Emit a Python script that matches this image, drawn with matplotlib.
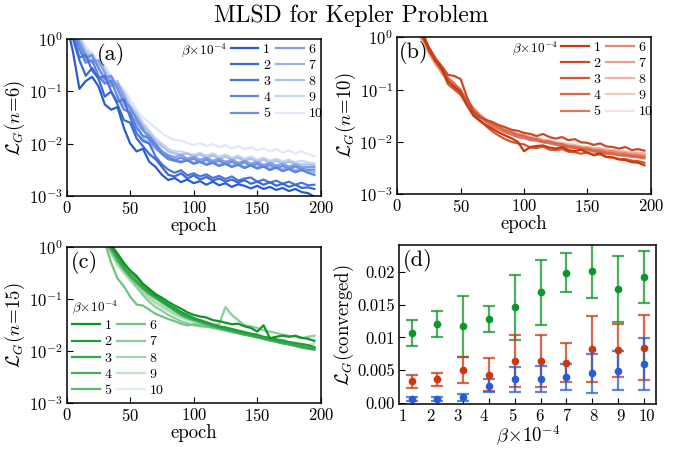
import numpy as np
import matplotlib
matplotlib.use("Agg")
import matplotlib.pyplot as plt
from matplotlib.ticker import NullLocator, FixedLocator

plt.rcParams['font.family'] = 'serif'
plt.rcParams['font.serif'] = ['cmr10', 'DejaVu Serif']
plt.rcParams['mathtext.fontset'] = 'cm'
plt.rcParams['axes.unicode_minus'] = False
plt.rcParams['axes.formatter.use_mathtext'] = True

# ---------------- data ----------------
epochs = list(range(0, 200, 5))
betas = [1, 2, 3, 4, 5, 6, 7, 8, 9, 10]

# panel (a): n=6, log10 of loss
a_log = [
    [0.3, -0.25, -0.95, -0.8, -0.72, -0.9, -1.25, -1.35, -1.3, -1.7, -2.0, -2.15, -2.1, -2.35, -2.45, -2.6, -2.7, -2.66, -2.74, -2.69, -2.76, -2.72, -2.79, -2.73, -2.8, -2.76, -2.83, -2.78, -2.81, -2.86, -2.81, -2.87, -2.83, -2.89, -2.85, -2.91, -2.87, -2.93, -2.95, -3.02],
    [0.35, 0.0, -0.4, -0.7, -0.55, -0.75, -1.1, -1.0, -1.25, -1.55, -1.6, -1.9, -2.05, -2.2, -2.3, -2.45, -2.6, -2.63, -2.57, -2.67, -2.61, -2.69, -2.64, -2.71, -2.67, -2.73, -2.69, -2.75, -2.7, -2.77, -2.73, -2.79, -2.74, -2.81, -2.77, -2.83, -2.79, -2.85, -2.84, -2.87],
    [0.3, 0.05, -0.35, -0.3, -0.6, -0.75, -0.7, -1.0, -1.2, -1.15, -1.5, -1.8, -1.95, -2.0, -2.25, -2.4, -2.5, -2.56, -2.51, -2.61, -2.57, -2.63, -2.59, -2.66, -2.62, -2.68, -2.63, -2.71, -2.67, -2.65, -2.73, -2.69, -2.75, -2.71, -2.77, -2.73, -2.79, -2.75, -2.8, -2.79],
    [0.35, 0.1, -0.2, -0.45, -0.4, -0.7, -0.85, -0.8, -1.1, -1.35, -1.4, -1.7, -1.85, -1.9, -2.05, -2.2, -2.3, -2.33, -2.36, -2.32, -2.39, -2.35, -2.41, -2.37, -2.43, -2.39, -2.45, -2.41, -2.47, -2.42, -2.48, -2.44, -2.51, -2.46, -2.53, -2.49, -2.55, -2.51, -2.56, -2.6],
    [0.4, 0.15, -0.1, -0.35, -0.3, -0.55, -0.75, -0.7, -0.95, -1.2, -1.3, -1.55, -1.75, -1.85, -2.0, -2.15, -2.25, -2.31, -2.27, -2.33, -2.29, -2.36, -2.31, -2.37, -2.33, -2.39, -2.35, -2.41, -2.36, -2.43, -2.39, -2.45, -2.41, -2.47, -2.43, -2.48, -2.44, -2.49, -2.5, -2.5],
    [0.4, 0.2, -0.05, -0.3, -0.45, -0.4, -0.65, -0.9, -0.85, -1.1, -1.35, -1.5, -1.7, -1.95, -2.05, -2.15, -2.22, -2.26, -2.22, -2.29, -2.25, -2.31, -2.27, -2.33, -2.29, -2.35, -2.31, -2.37, -2.33, -2.39, -2.35, -2.41, -2.37, -2.42, -2.39, -2.44, -2.41, -2.45, -2.45, -2.45],
    [0.4, 0.2, -0.1, -0.4, -0.3, -0.55, -0.8, -0.75, -0.95, -1.25, -1.45, -1.6, -1.9, -2.0, -2.1, -2.2, -2.28, -2.31, -2.34, -2.3, -2.37, -2.33, -2.39, -2.35, -2.41, -2.37, -2.43, -2.39, -2.45, -2.4, -2.46, -2.42, -2.48, -2.44, -2.5, -2.46, -2.51, -2.48, -2.52, -2.55],
    [0.45, 0.25, 0.0, -0.25, -0.35, -0.45, -0.6, -0.85, -0.8, -1.05, -1.3, -1.45, -1.65, -1.8, -1.95, -2.05, -2.15, -2.19, -2.21, -2.19, -2.25, -2.21, -2.27, -2.23, -2.29, -2.25, -2.31, -2.27, -2.33, -2.29, -2.35, -2.31, -2.37, -2.33, -2.38, -2.35, -2.39, -2.4, -2.4, -2.42],
    [0.45, 0.3, 0.05, -0.2, -0.3, -0.5, -0.55, -0.75, -0.9, -1.0, -1.25, -1.4, -1.6, -1.75, -1.9, -2.0, -2.1, -2.15, -2.15, -2.19, -2.21, -2.18, -2.23, -2.19, -2.25, -2.21, -2.27, -2.23, -2.29, -2.25, -2.31, -2.27, -2.33, -2.29, -2.34, -2.31, -2.36, -2.33, -2.36, -2.38],
    [0.5, 0.35, 0.1, -0.15, -0.25, -0.45, -0.5, -0.7, -0.85, -0.95, -1.15, -1.35, -1.5, -1.6, -1.7, -1.8, -1.88, -1.93, -1.94, -1.99, -2.03, -1.99, -2.05, -2.01, -2.07, -2.03, -2.09, -2.05, -2.11, -2.07, -2.13, -2.09, -2.15, -2.11, -2.17, -2.13, -2.19, -2.15, -2.2, -2.25],
]

# panel (b): n=10
b_log = [
    [1.3, 1.0, 0.7, 0.35, 0.05, -0.25, -0.45, -0.6, -0.85, -0.95, -1.05, -1.3, -1.5, -1.6, -1.68, -1.75, -1.82, -1.88, -1.93, -2.0, -2.18, -2.1, -2.08, -2.07, -2.11, -2.13, -2.1, -2.16, -2.18, -2.15, -2.21, -2.25, -2.22, -2.29, -2.3, -2.34, -2.35, -2.39, -2.4, -2.45],
    [1.2, 0.9, 0.6, 0.3, 0.0, -0.2, -0.4, -0.55, -0.72, -0.74, -0.8, -1.15, -1.42, -1.52, -1.58, -1.62, -1.68, -1.72, -1.77, -1.79, -1.83, -1.85, -1.89, -1.85, -1.91, -1.94, -1.91, -1.97, -1.95, -2.01, -2.02, -2.06, -2.03, -2.09, -2.1, -2.13, -2.1, -2.16, -2.14, -2.17],
    [1.3, 1.0, 0.7, 0.4, 0.1, -0.2, -0.42, -0.62, -0.9, -1.0, -1.1, -1.3, -1.45, -1.58, -1.7, -1.8, -1.88, -1.95, -2.0, -2.03, -2.05, -2.11, -2.12, -2.09, -2.15, -2.16, -2.14, -2.19, -2.2, -2.23, -2.2, -2.26, -2.24, -2.29, -2.3, -2.33, -2.33, -2.36, -2.37, -2.4],
    [1.2, 0.9, 0.6, 0.3, 0.05, -0.2, -0.4, -0.6, -0.8, -0.9, -1.0, -1.25, -1.4, -1.52, -1.6, -1.66, -1.72, -1.78, -1.82, -1.86, -1.89, -1.93, -1.95, -1.99, -2.0, -2.03, -2.05, -2.09, -2.1, -2.13, -2.14, -2.17, -2.18, -2.21, -2.22, -2.25, -2.25, -2.27, -2.28, -2.3],
    [1.2, 0.9, 0.6, 0.3, 0.0, -0.22, -0.45, -0.62, -0.78, -0.88, -1.02, -1.22, -1.38, -1.5, -1.62, -1.7, -1.76, -1.82, -1.86, -1.91, -1.93, -1.97, -1.98, -2.01, -2.03, -2.06, -2.08, -2.11, -2.12, -2.15, -2.16, -2.19, -2.2, -2.23, -2.24, -2.26, -2.27, -2.29, -2.3, -2.32],
    [1.1, 0.8, 0.5, 0.25, 0.0, -0.25, -0.48, -0.65, -0.8, -0.92, -1.05, -1.2, -1.35, -1.48, -1.58, -1.66, -1.72, -1.78, -1.83, -1.88, -1.89, -1.94, -1.95, -1.99, -2.0, -2.04, -2.05, -2.08, -2.09, -2.11, -2.12, -2.15, -2.15, -2.18, -2.18, -2.21, -2.22, -2.24, -2.25, -2.27],
    [1.1, 0.8, 0.5, 0.2, -0.05, -0.3, -0.5, -0.68, -0.82, -0.95, -1.08, -1.25, -1.4, -1.52, -1.62, -1.7, -1.76, -1.82, -1.86, -1.91, -1.92, -1.96, -1.97, -2.01, -2.02, -2.05, -2.06, -2.09, -2.1, -2.13, -2.13, -2.16, -2.16, -2.19, -2.19, -2.22, -2.22, -2.25, -2.25, -2.26],
    [1.0, 0.75, 0.45, 0.2, -0.05, -0.28, -0.48, -0.62, -0.76, -0.9, -1.05, -1.22, -1.36, -1.48, -1.58, -1.65, -1.71, -1.76, -1.8, -1.85, -1.87, -1.91, -1.92, -1.96, -1.97, -2.01, -2.02, -2.05, -2.06, -2.09, -2.1, -2.12, -2.13, -2.15, -2.16, -2.18, -2.19, -2.21, -2.22, -2.23],
    [1.0, 0.7, 0.4, 0.15, -0.1, -0.3, -0.5, -0.66, -0.8, -0.92, -1.06, -1.24, -1.38, -1.5, -1.6, -1.67, -1.73, -1.78, -1.82, -1.87, -1.89, -1.93, -1.94, -1.98, -1.99, -2.02, -2.03, -2.06, -2.07, -2.1, -2.1, -2.13, -2.13, -2.16, -2.16, -2.19, -2.19, -2.21, -2.21, -2.22],
    [1.0, 0.7, 0.4, 0.15, -0.08, -0.32, -0.52, -0.68, -0.82, -0.95, -1.1, -1.26, -1.4, -1.52, -1.62, -1.68, -1.74, -1.79, -1.83, -1.88, -1.89, -1.94, -1.95, -1.98, -2.0, -2.03, -2.04, -2.07, -2.08, -2.1, -2.11, -2.13, -2.14, -2.16, -2.17, -2.19, -2.19, -2.21, -2.22, -2.24],
]

# panel (c): n=15
c_log = [
    [1.5, 1.3, 1.1, 0.9, 0.7, 0.5, 0.3, 0.05, -0.12, -0.3, -0.45, -0.55, -0.7, -0.8, -0.9, -0.97, -1.05, -1.12, -1.18, -1.25, -1.3, -1.33, -1.35, -1.4, -1.42, -1.45, -1.48, -1.47, -1.52, -1.55, -1.62, -1.5, -1.75, -1.72, -1.7, -1.72, -1.7, -1.74, -1.76, -1.8],
    [1.5, 1.3, 1.1, 0.9, 0.7, 0.5, 0.3, 0.0, -0.15, -0.32, -0.45, -0.58, -0.72, -0.84, -0.93, -1.02, -1.1, -1.17, -1.24, -1.3, -1.36, -1.4, -1.44, -1.48, -1.52, -1.54, -1.57, -1.6, -1.63, -1.66, -1.68, -1.72, -1.74, -1.77, -1.79, -1.82, -1.84, -1.86, -1.88, -1.92],
    [1.4, 1.2, 1.0, 0.8, 0.6, 0.4, 0.2, 0.02, -0.2, -0.38, -0.52, -0.65, -0.77, -0.87, -0.96, -1.05, -1.13, -1.2, -1.27, -1.33, -1.38, -1.42, -1.46, -1.5, -1.54, -1.57, -1.6, -1.63, -1.66, -1.69, -1.72, -1.75, -1.78, -1.8, -1.83, -1.86, -1.88, -1.9, -1.93, -1.95],
    [1.4, 1.2, 1.0, 0.8, 0.6, 0.4, 0.2, -0.02, -0.25, -0.42, -0.56, -0.68, -0.8, -0.9, -0.98, -1.06, -1.14, -1.22, -1.3, -1.36, -1.4, -1.44, -1.48, -1.52, -1.55, -1.58, -1.61, -1.64, -1.67, -1.7, -1.73, -1.76, -1.79, -1.82, -1.85, -1.87, -1.9, -1.93, -1.95, -1.97],
    [1.4, 1.2, 1.0, 0.8, 0.6, 0.4, 0.2, -0.05, -0.22, -0.4, -0.55, -0.66, -0.78, -0.88, -0.97, -1.05, -1.13, -1.2, -1.28, -1.34, -1.39, -1.43, -1.47, -1.51, -1.55, -1.58, -1.62, -1.65, -1.68, -1.7, -1.73, -1.76, -1.79, -1.8, -1.84, -1.86, -1.89, -1.91, -1.94, -1.96],
    [1.3, 1.1, 0.9, 0.7, 0.5, 0.3, 0.1, -0.3, -0.6, -0.75, -0.95, -1.1, -1.12, -1.2, -1.28, -1.33, -1.38, -1.42, -1.47, -1.5, -1.48, -1.5, -1.52, -1.55, -1.57, -1.6, -1.62, -1.65, -1.68, -1.7, -1.72, -1.75, -1.77, -1.8, -1.82, -1.85, -1.87, -1.9, -1.92, -1.95],
    [1.3, 1.1, 0.9, 0.7, 0.5, 0.3, 0.1, -0.1, -0.3, -0.45, -0.6, -0.75, -0.92, -1.05, -1.15, -1.22, -1.3, -1.36, -1.42, -1.46, -1.5, -1.52, -1.53, -1.5, -1.48, -1.15, -1.3, -1.4, -1.5, -1.52, -1.55, -1.6, -1.62, -1.65, -1.68, -1.7, -1.72, -1.75, -1.72, -1.7],
    [1.3, 1.1, 0.9, 0.7, 0.5, 0.3, 0.1, -0.08, -0.28, -0.45, -0.6, -0.72, -0.85, -0.95, -1.05, -1.12, -1.2, -1.27, -1.33, -1.38, -1.42, -1.46, -1.5, -1.53, -1.56, -1.6, -1.62, -1.65, -1.67, -1.7, -1.72, -1.74, -1.77, -1.79, -1.81, -1.84, -1.86, -1.88, -1.9, -1.92],
    [1.3, 1.1, 0.9, 0.7, 0.5, 0.3, 0.1, -0.12, -0.35, -0.5, -0.65, -0.78, -0.9, -1.0, -1.08, -1.16, -1.23, -1.3, -1.35, -1.4, -1.44, -1.47, -1.5, -1.54, -1.57, -1.6, -1.63, -1.65, -1.68, -1.7, -1.73, -1.75, -1.78, -1.8, -1.82, -1.84, -1.86, -1.88, -1.88, -1.85],
    [1.3, 1.1, 0.9, 0.7, 0.5, 0.3, 0.1, -0.1, -0.3, -0.48, -0.62, -0.75, -0.88, -0.98, -1.07, -1.15, -1.22, -1.29, -1.35, -1.4, -1.44, -1.48, -1.52, -1.55, -1.58, -1.61, -1.63, -1.66, -1.69, -1.71, -1.74, -1.76, -1.79, -1.81, -1.83, -1.85, -1.87, -1.89, -1.9, -1.9],
]

# panel (d): converged loss, mean and error
d_x = [1, 2, 3, 4, 5, 6, 7, 8, 9, 10]
d_tick_labels = ['1', '2', '3', '4', '5', '6', '7', '8', '9', '10']
d_tick_label_pos = [0.67, 1.71, 2.77, 3.8, 4.9, 5.97, 7.0, 8.03, 9.09, 10.12]
green_mean = [0.0107, 0.0121, 0.0117, 0.0128, 0.0146, 0.0169, 0.0199, 0.0202, 0.0174, 0.0192]
green_err = [0.0020, 0.0020, 0.0047, 0.0020, 0.0050, 0.0050, 0.0030, 0.0041, 0.0050, 0.0040]
red_mean = [0.0033, 0.0036, 0.0050, 0.0043, 0.0064, 0.0064, 0.0061, 0.0082, 0.0080, 0.0084]
red_err = [0.0010, 0.0010, 0.0020, 0.0025, 0.0040, 0.0040, 0.0030, 0.0050, 0.0040, 0.0050]
blue_mean = [0.0005, 0.0005, 0.0008, 0.0026, 0.0036, 0.0036, 0.0039, 0.0045, 0.0049, 0.0059]
blue_err = [0.0003, 0.0003, 0.0005, 0.0010, 0.0019, 0.0020, 0.0020, 0.0030, 0.0030, 0.0040]

BLUE = np.array([40, 92, 212]) / 255
RED = np.array([202, 56, 16]) / 255
GREEN = np.array([12, 150, 40]) / 255
fade = [0, 0.08, 0.16, 0.24, 0.32, 0.42, 0.52, 0.62, 0.74, 0.86]


def shades(base):
    return [tuple(base * (1 - t) + np.ones(3) * t) for t in fade]


fig = plt.figure(figsize=(6.85, 4.49), dpi=100)
fig.text(0.513, 0.966, 'MLSD for Kepler Problem', ha='center', va='center', fontsize=17)

TICK_FS = 12
LAB_FS = 13.5
LEG_FS = 10
LET_FS = 16


def style(ax):
    for s in ax.spines.values():
        s.set_linewidth(1.1)
    ax.tick_params(direction='in', length=4, width=0.8, labelsize=TICK_FS,
                   top=False, right=False, pad=3)


def loss_panel(rect, data, base, letter, letter_x, ylabel, legend_mode):
    ax = fig.add_axes(rect)
    cols = shades(base)
    lines = []
    for i in range(9, -1, -1):
        ln, = ax.plot(epochs, 10 ** np.array(data[i]), color=cols[i], lw=1.6,
                      label=str(betas[i]))
        lines.append(ln)
    lines = lines[::-1]
    ax.set_yscale('log')
    ax.set_ylim(1e-3, 1)
    ax.set_xlim(0, 200)
    ax.set_xticks([0, 50, 100, 150, 200])
    ax.yaxis.set_major_locator(FixedLocator([1e-3, 1e-2, 1e-1, 1]))
    ax.yaxis.set_minor_locator(NullLocator())
    style(ax)
    ax.set_xlabel('epoch', fontsize=LAB_FS, labelpad=0)
    ax.set_ylabel(ylabel, fontsize=LAB_FS, labelpad=1)
    ax.text(letter_x, 0.905, letter, transform=ax.transAxes, fontsize=LET_FS,
            va='center', ha='left')
    if legend_mode == 'top':
        ax.legend(handles=lines, ncol=2, loc='upper left', bbox_to_anchor=(0.645, 0.977),
                  frameon=False, fontsize=LEG_FS, handlelength=2.0, handletextpad=0.35,
                  columnspacing=0.4, labelspacing=0.25, borderpad=0, borderaxespad=0)
        ax.text(0.632, 0.93, r'$\beta\!\times\!10^{-4}$', transform=ax.transAxes,
                ha='right', va='center', fontsize=9.5)
    else:
        leg = ax.legend(handles=lines, ncol=2, loc='lower left', bbox_to_anchor=(0.02, 0.04),
                        frameon=False, fontsize=LEG_FS, handlelength=2.0, handletextpad=0.35,
                        columnspacing=0.4, labelspacing=0.25, borderpad=0, borderaxespad=0,
                        title=r'$\beta\!\times\!10^{-4}$', title_fontsize=9.5)
        leg._legend_box.align = 'left'
    return ax


loss_panel([0.0974, 0.5641, 0.3708, 0.3484], a_log, BLUE, '(a)', 0.12, r'$\mathcal{L}_G(n\!=\!6)$', 'top')
loss_panel([0.580, 0.5679, 0.370, 0.349], b_log, RED, '(b)', 0.008, r'$\mathcal{L}_G(n\!=\!10)$', 'top')
loss_panel([0.0974, 0.1018, 0.3708, 0.3474], c_log, GREEN, '(c)', 0.015, r'$\mathcal{L}_G(n\!=\!15)$', 'bottom')

# panel (d)
ax = fig.add_axes([0.5829, 0.0996, 0.3748, 0.3541])
for mean, err, base in [(green_mean, green_err, GREEN), (red_mean, red_err, RED),
                        (blue_mean, blue_err, BLUE)]:
    ax.errorbar(d_x, mean, yerr=err, fmt='none', ecolor=tuple(base), alpha=0.75,
                elinewidth=1.6, capsize=4, capthick=1.6)
    ax.plot(d_x, mean, 'o', color=tuple(base), ms=4.5, zorder=5)
ax.set_xlim(0.52, 10.47)
ax.set_ylim(-0.00025, 0.0241)
ax.xaxis.remove_overlapping_locs = False
ax.set_xticks(d_x, labels=[''] * len(d_x))
ax.set_xticks(d_tick_label_pos, labels=d_tick_labels, minor=True)
ax.set_yticks([0, 0.005, 0.01, 0.015, 0.02], labels=['0.00', '0.005', '0.01', '0.015', '0.02'])
style(ax)
ax.tick_params(axis='x', which='minor', length=0, labelsize=TICK_FS, pad=3)
ax.set_xlabel(r'$\beta\!\times\!10^{-4}$', fontsize=LAB_FS, labelpad=0)
ax.set_ylabel(r'$\mathcal{L}_G$(converged)', fontsize=LAB_FS, labelpad=1)
ax.text(0.015, 0.903, '(d)', transform=ax.transAxes, fontsize=LET_FS, va='center', ha='left')

fig.savefig('out.png', dpi=100)
